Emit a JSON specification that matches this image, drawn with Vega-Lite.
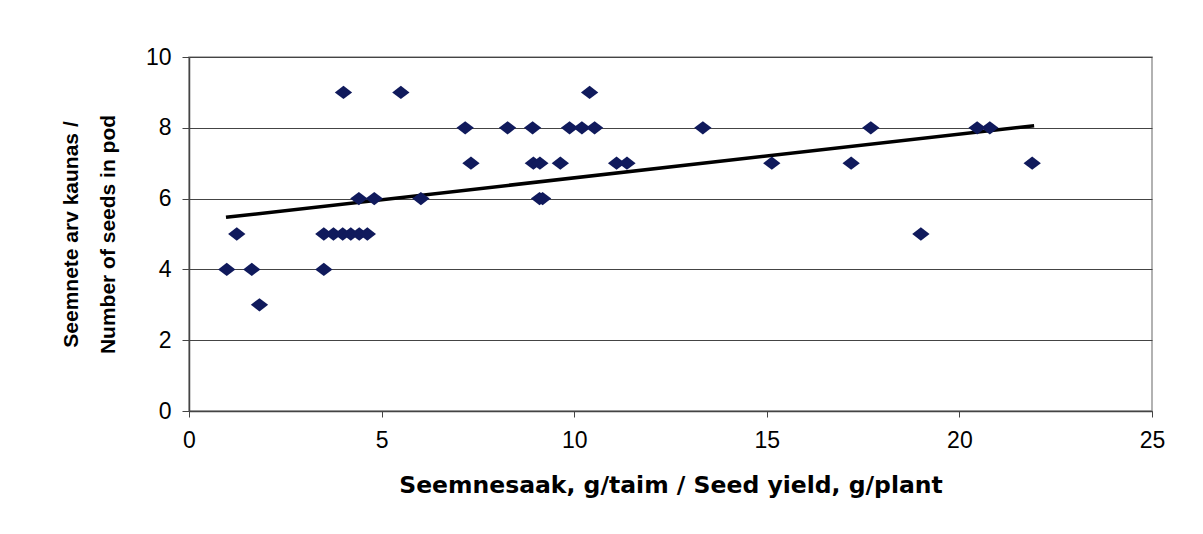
{
  "$schema": "https://vega.github.io/schema/vega-lite/v6.json",
  "autosize": {"type": "none"},
  "width": 963,
  "height": 354,
  "padding": {"left": 189, "top": 57, "right": 51, "bottom": 123},
  "background": "white",
  "config": {
    "view": {"stroke": "#999999", "strokeWidth": 1.5},
    "font": "Liberation Sans"
  },
  "datasets": {
    "points": [
      {"yield": 4.01, "seeds": 9}, {"yield": 5.50, "seeds": 9}, {"yield": 10.40, "seeds": 9},
      {"yield": 7.17, "seeds": 8}, {"yield": 8.27, "seeds": 8}, {"yield": 8.92, "seeds": 8}, {"yield": 9.88, "seeds": 8}, {"yield": 10.20, "seeds": 8}, {"yield": 10.53, "seeds": 8}, {"yield": 13.34, "seeds": 8}, {"yield": 17.70, "seeds": 8}, {"yield": 20.46, "seeds": 8}, {"yield": 20.79, "seeds": 8},
      {"yield": 7.32, "seeds": 7}, {"yield": 8.94, "seeds": 7}, {"yield": 9.11, "seeds": 7}, {"yield": 9.64, "seeds": 7}, {"yield": 11.10, "seeds": 7}, {"yield": 11.37, "seeds": 7}, {"yield": 15.13, "seeds": 7}, {"yield": 17.19, "seeds": 7}, {"yield": 21.89, "seeds": 7},
      {"yield": 4.41, "seeds": 6}, {"yield": 4.81, "seeds": 6}, {"yield": 6.02, "seeds": 6}, {"yield": 9.10, "seeds": 6}, {"yield": 9.18, "seeds": 6},
      {"yield": 1.24, "seeds": 5}, {"yield": 3.50, "seeds": 5}, {"yield": 3.75, "seeds": 5}, {"yield": 3.99, "seeds": 5}, {"yield": 4.20, "seeds": 5}, {"yield": 4.42, "seeds": 5}, {"yield": 4.63, "seeds": 5}, {"yield": 19.00, "seeds": 5},
      {"yield": 0.98, "seeds": 4}, {"yield": 1.63, "seeds": 4}, {"yield": 3.50, "seeds": 4},
      {"yield": 1.83, "seeds": 3}
    ],
    "trend": [
      {"yield": 0.96, "seeds": 5.47},
      {"yield": 21.94, "seeds": 8.06}
    ]
  },
  "encoding": {
    "x": {
      "field": "yield", "type": "quantitative",
      "scale": {"domain": [0, 25], "nice": false, "zero": false},
      "axis": {
        "title": "Seemnesaak, g/taim / Seed yield, g/plant",
        "values": [0, 5, 10, 15, 20, 25],
        "grid": false,
        "labelFlush": false,
        "domainColor": "#444444", "domainWidth": 1.5,
        "tickColor": "#444444", "tickSize": 6, "tickWidth": 1,
        "labelFont": "Liberation Sans", "labelFontSize": 23, "labelColor": "#000000",
        "labelPadding": 12,
        "titleFont": "DejaVu Sans", "titleFontSize": 23.5, "titleFontWeight": "bold", "titleColor": "#000000",
        "titlePadding": 21
      }
    },
    "y": {
      "field": "seeds", "type": "quantitative",
      "scale": {"domain": [0, 10], "nice": false, "zero": false},
      "axis": {
        "title": ["Seemnete arv kaunas /", "Number of seeds in pod"],
        "values": [0, 2, 4, 6, 8, 10],
        "labelFlush": false,
        "grid": true, "gridColor": "#444444", "gridWidth": 1,
        "domainColor": "#444444", "domainWidth": 1.5,
        "tickColor": "#444444", "tickSize": 7, "tickWidth": 1,
        "labelFont": "Liberation Sans", "labelFontSize": 23, "labelColor": "#000000",
        "labelPadding": 11,
        "titleFont": "Liberation Sans", "titleFontSize": 21, "titleFontWeight": "bold", "titleColor": "#000000",
        "titleLineHeight": 37,
        "titlePadding": 27
      }
    }
  },
  "layer": [
    {
      "data": {"name": "trend"},
      "mark": {"type": "line", "color": "#000000", "strokeWidth": 3.5}
    },
    {
      "data": {"name": "points"},
      "mark": {
        "type": "point",
        "shape": "M-1,0L0,-0.77L1,0L0,0.77Z",
        "filled": true,
        "opacity": 1,
        "color": "#101a5c",
        "size": 300
      }
    }
  ]
}
